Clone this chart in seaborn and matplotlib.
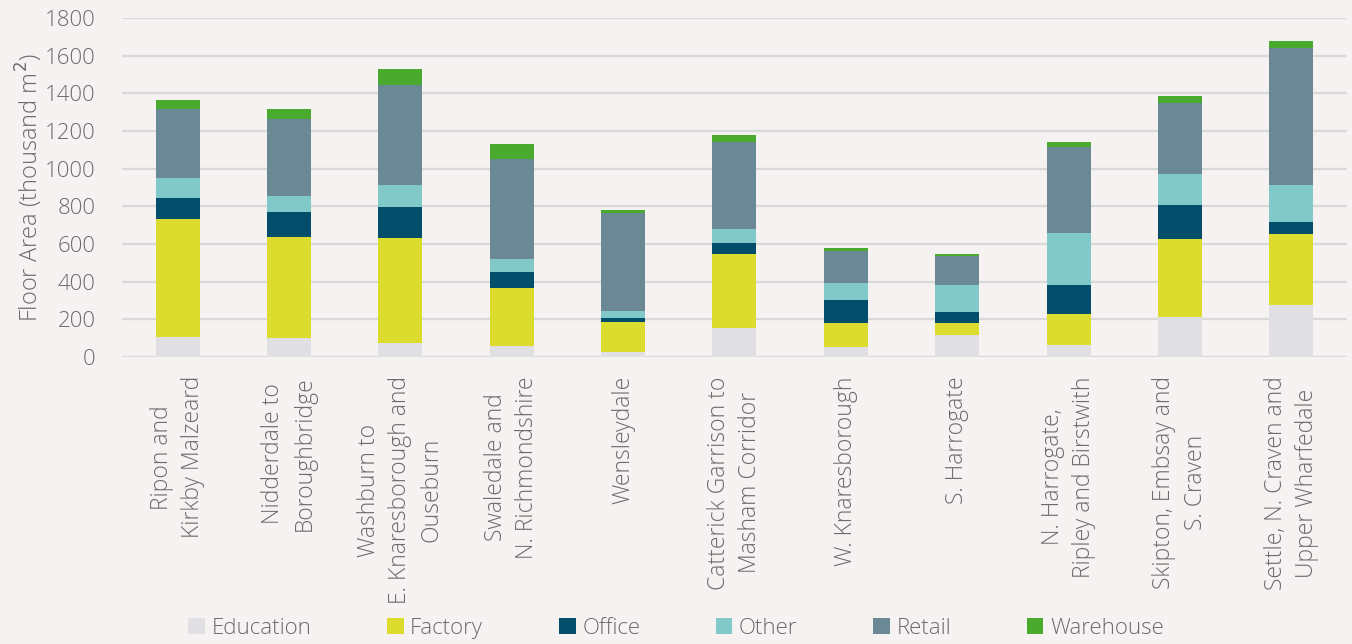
import matplotlib
matplotlib.use("Agg")
import matplotlib.pyplot as plt
from matplotlib.patches import Patch
import numpy as np
import pandas as pd
import seaborn as sns

areas = [
    "Ripon and\nKirkby Malzeard",
    "Nidderdale to\nBoroughbridge",
    "Washburn to\nE. Knaresborough and\nOuseburn",
    "Swaledale and\nN. Richmondshire",
    "Wensleydale",
    "Catterick Garrison to\nMasham Corridor",
    "W. Knaresborough",
    "S. Harrogate",
    "N. Harrogate,\nRipley and Birstwith",
    "Skipton, Embsay and\nS. Craven",
    "Settle, N. Craven and\nUpper Wharfedale",
]

education = [103, 98, 74, 57, 25, 151, 53, 115, 62, 213, 275]
factory = [627, 539, 557, 308, 161, 397, 128, 64, 165, 411, 376]
office = [112, 132, 165, 85, 21, 57, 120, 59, 156, 183, 67]
other = [107, 87, 115, 68, 36, 74, 93, 143, 275, 166, 195]
retail = [367, 408, 536, 535, 519, 463, 168, 156, 455, 374, 731]
warehouse = [51, 52, 83, 78, 20, 39, 18, 7, 29, 41, 35]

categories = ["Education", "Factory", "Office", "Other", "Retail", "Warehouse"]
colors = ["#E0DFE3", "#DCDC2E", "#034E6B", "#80C9C8", "#6A8995", "#4AAA2E"]

df = pd.DataFrame(
    {"Area": areas, "Education": education, "Factory": factory, "Office": office,
     "Other": other, "Retail": retail, "Warehouse": warehouse}
)
cum = df[categories].cumsum(axis=1)

bg = "#F5F2F1"
text_col = "#6B6B6B"

sns.set_theme(style="white")
plt.rcParams["font.family"] = ["Open Sans", "DejaVu Sans"]

fig = plt.figure(figsize=(13.52, 6.44), dpi=100, facecolor=bg)
ax = fig.add_axes([0.0902, 0.4461, 0.9061, 0.5255])
ax.set_facecolor(bg)

# stacked bars: draw cumulative totals from the top layer down
for cat, col in reversed(list(zip(categories, colors))):
    sns.barplot(x=df["Area"], y=cum[cat], color=col, width=0.395,
                saturation=1, ax=ax, edgecolor="none", zorder=3)

ax.set_ylim(0, 1800)
ax.set_xlim(-0.5, len(areas) - 0.5)
ax.set_yticks(np.arange(0, 1801, 200))
ax.yaxis.grid(True, color="#D9D9D9", linewidth=1.6, zorder=0)
ax.set_axisbelow(True)
for s in ax.spines.values():
    s.set_visible(False)

ax.tick_params(axis="both", length=0, labelcolor=text_col, labelsize=16.5)
ax.tick_params(axis="y", pad=19, labelsize=16)
ax.tick_params(axis="x", pad=14)
ax.set_xticks(range(len(areas)))
ax.set_xticklabels(areas, rotation=90, ha="center", va="top",
                   multialignment="center", linespacing=1.4,
                   fontweight="light")
for t in ax.get_yticklabels():
    t.set_fontweight("light")

ax.set_xlabel("")
ax.set_ylabel("Floor Area (thousand m$^2$)", color=text_col, fontsize=17,
              fontweight="light")
ax.yaxis.set_label_coords(-0.063, 0.5)

handles = [Patch(facecolor=c, edgecolor="none", label=l) for l, c in zip(categories, colors)]
leg = fig.legend(handles=handles, loc="center", bbox_to_anchor=(0.5, 0.024),
                 ncol=6, frameon=False, fontsize=16, handlelength=0.75,
                 handleheight=0.75, handletextpad=0.3, columnspacing=3.4,
                 labelcolor=text_col)
for t in leg.get_texts():
    t.set_fontweight("light")

fig.savefig("out.png", dpi=100, facecolor=bg)
